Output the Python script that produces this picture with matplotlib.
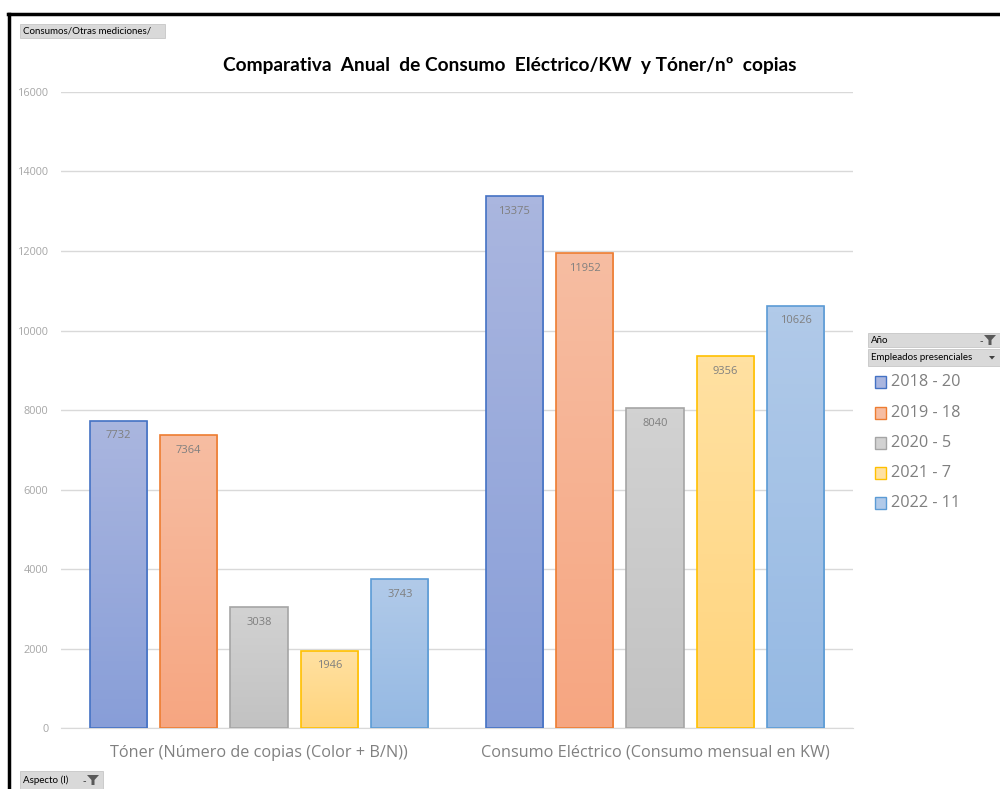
import numpy as np
import matplotlib.pyplot as plt
from matplotlib.colors import LinearSegmentedColormap
from matplotlib.patches import Rectangle, Polygon

categories = ['Tóner (Número de copias (Color + B/N))',
              'Consumo Eléctrico (Consumo mensual en KW)']
series = ['2018 - 20', '2019 - 18', '2020 - 5', '2021 - 7', '2022 - 11']
values = [
    [7732, 13375],
    [7364, 11952],
    [3038, 8040],
    [1946, 9356],
    [3743, 10626],
]
yticks = [0, 2000, 4000, 6000, 8000, 10000, 12000, 14000, 16000]

edge_colors = ['#4472C4', '#ED7D31', '#A5A5A5', '#FFC000', '#5B9BD5']
top_colors = ['#AAB6DF', '#F6BDA2', '#D2D2D2', '#FFE1A2', '#B1CAE9']
bot_colors = ['#889ED8', '#F6A681', '#C2C2C2', '#FFD47C', '#95B9E3']

fig = plt.figure(figsize=(10, 7.89), dpi=100)
ax = fig.add_axes([0.061, 0.0773, 0.792, 0.8061])

x = np.arange(len(categories))
step = 0.178
width = 0.144
for i, s in enumerate(series):
    pos = x + (i - 2) * step
    bars = ax.bar(pos, values[i], width, color='none', edgecolor=edge_colors[i],
                  linewidth=1.2, zorder=3, label=s)
    cmap = LinearSegmentedColormap.from_list('g%d' % i, [bot_colors[i], top_colors[i]])
    for b, v in zip(bars, values[i]):
        im = ax.imshow(np.linspace(0, 1, 64).reshape(-1, 1), cmap=cmap, origin='lower',
                       extent=[b.get_x(), b.get_x() + b.get_width(), 0, v],
                       aspect='auto', zorder=2)
        im.set_clip_path(b)
        ax.annotate(str(v), (b.get_x() + b.get_width() / 2, v), xytext=(0, -7),
                    textcoords='offset points', ha='center', va='top',
                    fontsize=8, color='#7F7F7F', zorder=4, family='Open Sans')

ax.set_xlim(-0.5, 1.5)
ax.set_ylim(0, 16000)
ax.set_yticks(yticks)
ax.set_yticklabels([str(t) for t in yticks], fontsize=7.8, color='#A6A6A6', family='Open Sans')
ax.set_xticks(x)
ax.set_xticklabels(categories, fontsize=11.7, color='#808080', family='Open Sans')
ax.tick_params(axis='x', length=0, pad=12)
ax.tick_params(axis='y', length=0, pad=9)
ax.grid(axis='y', color='#D9D9D9', linewidth=1, zorder=0)
for sp in ['top', 'right', 'left']:
    ax.spines[sp].set_visible(False)
ax.spines['bottom'].set_color('#D9D9D9')

fig.text(0.51, 0.917, 'Comparativa  Anual  de Consumo  Eléctrico/KW  y Tóner/nº  copias',
         ha='center', va='center', fontsize=13.8, fontweight='bold', family='Lato')

# legend
leg_y = [382, 413, 443, 473, 503]
for i, s in enumerate(series):
    yy = 1 - leg_y[i] / 789
    fig.patches.append(Rectangle((0.875, yy - 0.007), 0.011, 0.014, transform=fig.transFigure,
                                 facecolor=top_colors[i], edgecolor=edge_colors[i], lw=1))
    fig.text(0.891, yy, s, ha='left', va='center', fontsize=11.7, color='#7F7F7F',
             family='Open Sans')

# field buttons
def button(x0, y0, x1, y1, label, funnel=False, arrow=False):
    fig.patches.append(Rectangle((x0 / 1000, 1 - y1 / 789), (x1 - x0) / 1000, (y1 - y0) / 789,
                                 transform=fig.transFigure, facecolor='#D9D9D9',
                                 edgecolor='#BFBFBF', lw=0.5))
    fig.text((x0 + 3) / 1000, 1 - (y0 + y1) / 2 / 789, label, ha='left', va='center',
             fontsize=7, color='black', family='Lato')
    if funnel:
        fx = x1 - 10
        fy = (y0 + y1) / 2
        pts = [(fx - 6, fy - 5), (fx + 6, fy - 5), (fx + 1.5, fy), (fx + 1.5, fy + 5),
               (fx - 1.5, fy + 5), (fx - 1.5, fy)]
        fig.patches.append(Polygon([(px / 1000, 1 - py / 789) for px, py in pts],
                                   transform=fig.transFigure, facecolor='#595959', lw=0))
        fig.text((fx - 9) / 1000, 1 - (fy + 1) / 789, '-', ha='center', va='center',
                 fontsize=7, color='#404040')
    if arrow:
        fx = x1 - 8
        fy = (y0 + y1) / 2
        pts = [(fx - 3, fy - 1.5), (fx + 3, fy - 1.5), (fx, fy + 2)]
        fig.patches.append(Polygon([(px / 1000, 1 - py / 789) for px, py in pts],
                                   transform=fig.transFigure, facecolor='#404040', lw=0))

button(20, 24, 165, 38, 'Consumos/Otras mediciones/')
button(868, 333, 1000, 347, 'Año', funnel=True)
button(868, 349, 1000, 366, 'Empleados presenciales', arrow=True)
button(20, 771, 103, 789, 'Aspecto (I)', funnel=True)

# outer frame (top and left edges)
fig.add_artist(plt.Line2D([0.008, 1.0], [1 - 14 / 789, 1 - 14 / 789],
                          transform=fig.transFigure, color='black', lw=2.5))
fig.add_artist(plt.Line2D([0.009, 0.009], [0, 1 - 14 / 789],
                          transform=fig.transFigure, color='black', lw=2.5))

fig.savefig('out.png', dpi=100)
